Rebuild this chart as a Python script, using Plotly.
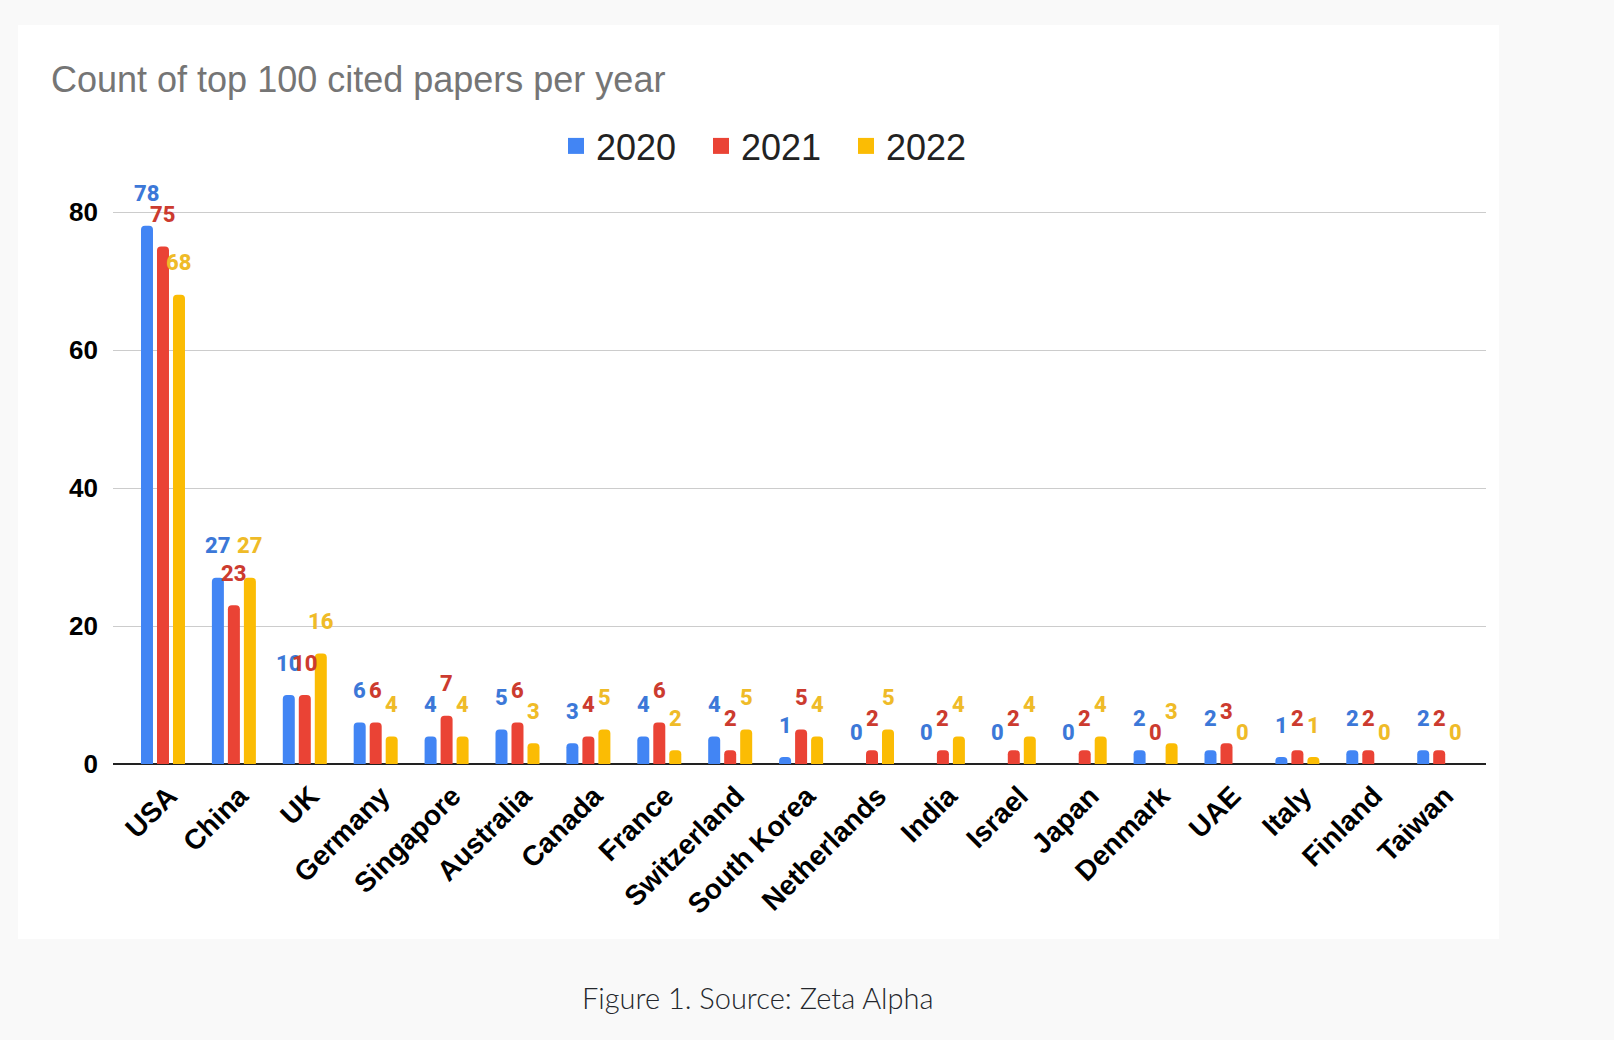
import plotly.graph_objects as go

countries = ["USA", "China", "UK", "Germany", "Singapore", "Australia", "Canada",
             "France", "Switzerland", "South Korea", "Netherlands", "India", "Israel",
             "Japan", "Denmark", "UAE", "Italy", "Finland", "Taiwan"]
y2020 = [78, 27, 10, 6, 4, 5, 3, 4, 4, 1, 0, 0, 0, 0, 2, 2, 1, 2, 2]
y2021 = [75, 23, 10, 6, 7, 6, 4, 6, 2, 5, 2, 2, 2, 2, 0, 3, 2, 2, 2]
y2022 = [68, 27, 16, 4, 4, 3, 5, 2, 5, 4, 5, 4, 4, 4, 3, 0, 1, 0, 0]
years = ["2020", "2021", "2022"]
y_ticks = [0, 20, 40, 60, 80]
title_text = "Count of top 100 cited papers per year"
caption_text = "Figure 1. Source: Zeta Alpha"

series = [y2020, y2021, y2022]
bar_colors = ["#4285F4", "#EA4335", "#FBBC04"]
label_colors = ["#3c78d8", "#cc3b2f", "#efbb28"]

W, H = 1614, 1040
L, R, T, B = 113, 128, 211, 276
BARGAP = 0.323


def px_x(px):
    return (px - L) / (W - L - R)


def px_y(py):
    return (H - B - py) / (H - T - B)


fig = go.Figure()
n = len(series)
for j, (name, vals, col) in enumerate(zip(years, series, bar_colors)):
    fig.add_trace(go.Bar(x=countries, y=vals, name=name, marker_color=col,
                         marker_line_width=0, showlegend=False, hoverinfo="x+y+name"))
    fig.add_trace(go.Scatter(x=[None], y=[None], mode="markers", name=name,
                             marker=dict(symbol="square", size=16, color=col),
                             showlegend=True))

annotations = []
slot = (1 - BARGAP) / n
for j, vals in enumerate(series):
    for i, v in enumerate(vals):
        annotations.append(dict(
            x=i + (j - (n - 1) / 2) * slot, y=v, xref="x", yref="y",
            text=str(v), showarrow=False, yanchor="middle", xanchor="center",
            yshift=32,
            font=dict(family="Roboto", size=22, color=label_colors[j], weight=800)))

annotations.append(dict(
    x=px_x(757), y=px_y(997), xref="paper", yref="paper", text=caption_text,
    showarrow=False, xanchor="center", yanchor="middle",
    font=dict(family="Lato", size=29, color="#24272c", weight=300)))

fig.update_layout(
    width=W, height=H,
    margin=dict(l=L, r=R, t=T, b=B, pad=0),
    paper_bgcolor="#f9f9f9",
    plot_bgcolor="white",
    barmode="group", bargap=BARGAP, bargroupgap=0.25, barcornerradius=4,
    title=dict(text=title_text, x=51 / W, xanchor="left", xref="container",
               y=1 - 79 / H, yanchor="middle", yref="container",
               font=dict(family="Liberation Sans, Arial", size=36, color="#757575")),
    legend=dict(orientation="h", xref="container", yref="container",
                x=556 / W, xanchor="left", y=1 - 146 / H, yanchor="middle",
                font=dict(family="Liberation Sans, Arial", size=36, color="#222222"),
                bgcolor="rgba(0,0,0,0)", entrywidth=100),
    xaxis=dict(type="category", range=[-0.705, 18.66], tickangle=-45,
               tickfont=dict(family="Liberation Sans, Arial", size=28, color="black", weight=700),
               showgrid=False, ticks="", showline=False, fixedrange=True,
               ticklabelstandoff=9, ticklabelshift=6),
    yaxis=dict(range=[0, 80.15], tickvals=y_ticks, showgrid=True, gridcolor="#cccccc",
               gridwidth=1, zeroline=True, zerolinecolor="#222222", zerolinewidth=2,
               tickfont=dict(family="Liberation Sans, Arial", size=26, color="black", weight=700),
               ticks="", ticklabelstandoff=14, fixedrange=True),
    annotations=annotations,
    shapes=[dict(type="rect", xref="paper", yref="paper", layer="below",
                 x0=px_x(18), x1=px_x(1499), y0=px_y(939), y1=px_y(25),
                 fillcolor="white", line_width=0)],
)

fig.write_html("out.html")
